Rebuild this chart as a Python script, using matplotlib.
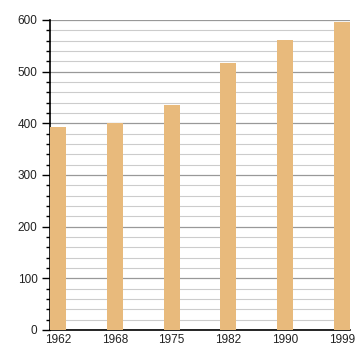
import matplotlib
matplotlib.use("Agg")
import matplotlib.pyplot as plt
from matplotlib.ticker import MultipleLocator

years = ["1962", "1968", "1975", "1982", "1990", "1999"]
values = [393, 400, 436, 517, 561, 596]

plt.rcParams['font.family'] = ['Liberation Sans', 'DejaVu Sans']
fig = plt.figure(figsize=(3.6, 3.6), dpi=100)
ax = fig.add_axes([50/360, 30/360, 300/360, 310/360])

x = list(range(len(years)))
ax.bar(x, values, width=0.28, color="#E8BA7C", zorder=3)
ax.set_xlim(-0.14, 5.14)
ax.set_ylim(0, 600)
ax.set_xticks(x)
ax.set_xticklabels(years)
ax.yaxis.set_major_locator(MultipleLocator(100))
ax.yaxis.set_minor_locator(MultipleLocator(20))
ax.grid(axis='y', which='major', color='#999999', linewidth=0.9, zorder=0)
ax.grid(axis='y', which='minor', color='#CCCCCC', linewidth=0.8, zorder=0)
for s in ['top', 'right']:
    ax.spines[s].set_visible(False)
ax.spines['left'].set_linewidth(1.2)
ax.spines['bottom'].set_linewidth(1.2)
ax.tick_params(axis='y', which='major', length=6, width=1, labelsize=8.5, colors='black', pad=3)
ax.tick_params(axis='y', which='minor', length=3, width=1)
ax.tick_params(axis='x', length=0, labelsize=8.5, pad=3)
for lab in ax.get_xticklabels() + ax.get_yticklabels():
    lab.set_color('#222222')
fig.savefig("out.png", dpi=100)
